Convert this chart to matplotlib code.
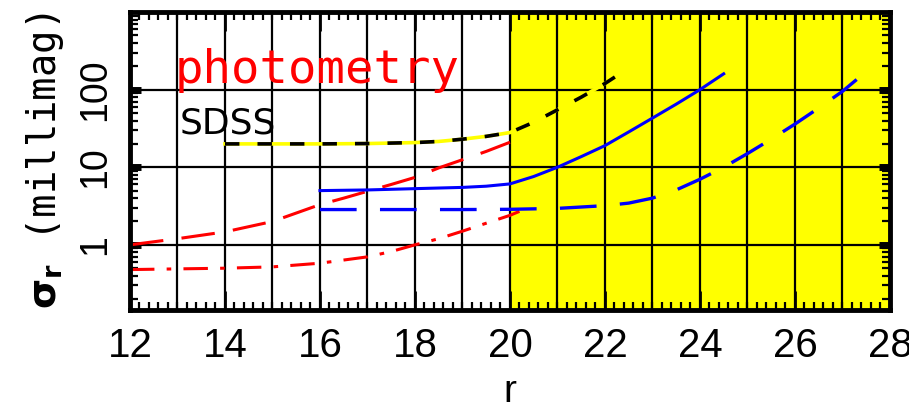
import matplotlib
matplotlib.use("Agg")
import matplotlib.pyplot as plt
from matplotlib.ticker import MultipleLocator, LogLocator, NullFormatter
import numpy as np

# values (r magnitude vs sigma_r in millimag)
sdss_r = [14, 15, 16, 17, 18, 18.5, 19, 19.5, 20, 20.5, 21, 21.5, 22, 22.5]
sdss_sig = [20, 20, 20, 20.2, 20.8, 21.5, 23, 25, 28, 38, 55, 80, 120, 190]

red_dash_r = [12, 13, 14, 15, 16, 16.5, 17, 17.5, 18, 18.5, 19, 19.5, 20]
red_dash_sig = [1.0, 1.2, 1.47, 2.0, 3.3, 4.0, 4.9, 6.0, 7.4, 9.8, 12.5, 16, 21]

red_dd_r = [12, 13, 14, 15, 16, 17, 17.5, 18, 18.5, 19, 19.5, 20, 20.2]
red_dd_sig = [0.48, 0.49, 0.5, 0.52, 0.58, 0.7, 0.82, 1.0, 1.2, 1.5, 1.9, 2.4, 2.7]

blue_r = [16, 17, 18, 19, 19.5, 20, 20.5, 21, 21.5, 22, 22.5, 23, 23.5, 24, 24.5]
blue_sig = [5.0, 5.1, 5.3, 5.5, 5.7, 6.1, 7.6, 10, 13.7, 19, 28.5, 43, 65, 100, 160]

blue_dash_r = [16, 17, 18, 19, 20, 21, 22, 22.5, 23, 23.5, 24, 24.5, 25, 25.5, 26, 26.5, 27, 27.3]
blue_dash_sig = [2.85, 2.85, 2.85, 2.85, 2.87, 2.95, 3.2, 3.45, 4.0, 5.1, 7.0, 10, 15, 23, 36, 58, 95, 135]

xticks = [12, 14, 16, 18, 20, 22, 24, 26, 28]
yticks = [1, 10, 100]
ytick_labels = ["1", "10", "100"]

fig = plt.figure(figsize=(9.09, 4.16), dpi=100)
ax = fig.add_axes([0.143, 0.255, 0.836, 0.716])

# faint-magnitude region
ax.axvspan(20, 28, color="yellow", zorder=0)

# grid: every magnitude and every decade
for g in range(13, 28):
    ax.axvline(g, color="black", lw=1.6, zorder=1)
for g in yticks:
    ax.axhline(g, color="black", lw=1.6, zorder=1)

ax.plot(red_dash_r, red_dash_sig, color="red", lw=2.2, dashes=(11, 6), zorder=3)
ax.plot(red_dd_r, red_dd_sig, color="red", lw=2.2, dashes=(8, 4, 1.5, 4), zorder=3)
ax.plot(blue_r, blue_sig, color="blue", lw=2.2, zorder=3)
ax.plot(blue_dash_r, blue_dash_sig, color="blue", lw=2.4, dashes=(11, 7), zorder=3)
ax.plot(sdss_r, sdss_sig, color="yellow", lw=2.6, zorder=4)
ax.plot(sdss_r, sdss_sig, color="black", lw=2.6, dashes=(4, 5), zorder=5)

ax.set_yscale("log")
ax.set_xlim(12, 28)
ax.set_ylim(0.145, 1000)

ax.set_xticks(xticks)
ax.set_xticklabels([str(t) for t in xticks], fontsize=29, family="Liberation Sans")
ax.xaxis.set_minor_locator(MultipleLocator(0.2))
ax.set_yticks(yticks)
ax.set_yticklabels(ytick_labels, fontsize=27, family="Liberation Sans", rotation=90, va="center")
ax.yaxis.set_minor_locator(LogLocator(base=10, subs=np.arange(2, 10)))
ax.yaxis.set_minor_formatter(NullFormatter())

ax.tick_params(axis="x", which="major", direction="in", length=14, width=2, top=True, pad=12)
ax.tick_params(axis="x", which="minor", direction="in", length=6, width=1.6, top=True)
ax.tick_params(axis="y", which="major", direction="in", length=8, width=5, right=True, pad=12)
ax.tick_params(axis="y", which="minor", direction="in", length=6, width=1.6, right=True)

for s in ax.spines.values():
    s.set_linewidth(3.5)
    s.set_zorder(6)

ax.set_xlabel("r", fontsize=28, family="Liberation Sans", labelpad=7)
ax.set_ylabel(r"$\mathbf{\sigma_r}$ (millimag)", fontsize=28, family="DejaVu Sans Mono", labelpad=8)

ax.text(12.95, 176, "photometry", color="red", fontsize=34, family="DejaVu Sans Mono",
        va="center", ha="left", zorder=7)
ax.text(13.05, 37, "SDSS", color="black", fontsize=26, family="DejaVu Sans",
        va="center", ha="left", zorder=7)

fig.savefig("out.png", dpi=100)
